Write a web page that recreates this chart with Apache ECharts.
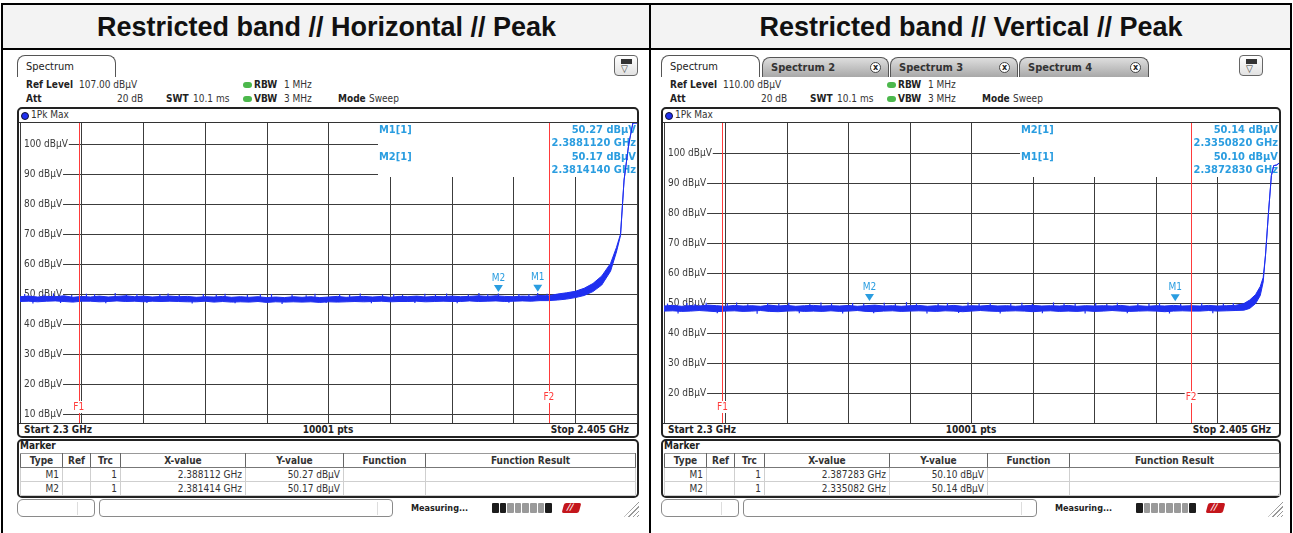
<!DOCTYPE html>
<html>
<head>
<meta charset="utf-8">
<script src="https://cdn.jsdelivr.net/npm/echarts@6.0.0/dist/echarts.min.js"></script>
<style>
body { margin:0; background:#fff; }
#page { position:relative; width:1293px; height:533px; overflow:hidden; font-family:"DejaVu Sans Condensed","DejaVu Sans",sans-serif; font-size:10px; color:#333; }
#page div, #page span, #page table { position:absolute; box-sizing:border-box; white-space:nowrap; }
.title { top:5px; height:44px; font:bold 27px "Liberation Sans", Arial, sans-serif; line-height:44px; text-align:center; color:#111; }
.tab { top:55px; height:22px; border:1px solid #555; border-bottom:none; border-radius:8px 8px 0 0; font-size:11px; line-height:21px; padding-left:8px; color:#222; background:#fff; }
.tab.off { top:57px; height:20px; line-height:19px; background:linear-gradient(#dedede,#a8a8a8); font-weight:bold; color:#333; }
.xb { right:7px; top:4px; width:11px; height:11px; border-radius:50%; border:1px solid #444; background:#fff; font:bold 8px/9px "DejaVu Sans",sans-serif; text-align:center; color:#222; }
table.mk { border-collapse:collapse; table-layout:fixed; font-size:10px; color:#333; }
table.mk th { height:13px; padding:0; font-weight:bold; text-align:center; border-top:1px solid #999; border-bottom:1px solid #777; border-right:1px solid #666; border-left:1px solid #666; }
table.mk td { height:13px; padding:0 3px 0 0; text-align:right; border:1px solid #cfcfcf; line-height:12px; }
</style>
</head>
<body>
<div id="page">
  <div id="chrome"></div>
  <div id="chart" style="left:0;top:0;width:1293px;height:533px;z-index:5;pointer-events:none"></div>
</div>
<script>
// ---- chart values ----
var titles = ['Restricted band // Horizontal // Peak', 'Restricted band // Vertical // Peak'];
var refLevels = [107, 110];            // dBµV, top of each display
var levelTicks = [[10, 20, 30, 40, 50, 60, 70, 80, 90, 100], [20, 30, 40, 50, 60, 70, 80, 90, 100]];
var startGHz = 2.3, stopGHz = 2.405;
var edgeNames = ['F1', 'F2'];
var edgeFreq = [2.31, 2.39];           // restricted band edges, GHz

// horizontal: dense core of the 1Pk Max trace
var hBandFreq = [2.3000,2.3015,2.3030,2.3045,2.3060,2.3075,2.3090,2.3105,2.3120,2.3135,
  2.3150,2.3165,2.3180,2.3195,2.3210,2.3225,2.3240,2.3255,2.3270,2.3285,
  2.3300,2.3315,2.3330,2.3345,2.3360,2.3375,2.3390,2.3405,2.3420,2.3435,
  2.3450,2.3465,2.3480,2.3495,2.3510,2.3525,2.3540,2.3555,2.3570,2.3585,
  2.3600,2.3615,2.3630,2.3645,2.3660,2.3675,2.3690,2.3705,2.3720,2.3735,
  2.3750,2.3765,2.3780,2.3795,2.3810,2.3825,2.3840,2.3855,2.3870,2.3885,
  2.3900,2.3915,2.3930,2.3945,2.3960,2.3975,2.3990,2.4005,2.4015,2.4022,
  2.4028,2.4036,2.4043,2.4050];
var hBandHigh = [49.1,49.3,49.0,49.2,49.1,49.4,48.9,49.2,49.0,49.3,
  49.0,49.2,49.4,49.1,49.3,49.0,49.2,49.3,49.1,49.2,
  48.9,49.1,49.0,49.2,48.9,49.1,48.9,49.1,48.8,49.0,
  48.8,49.1,48.9,49.1,48.8,49.0,49.2,48.9,49.1,49.2,
  49.0,49.2,48.9,49.2,49.1,49.3,49.0,49.2,49.1,49.3,
  49.1,49.2,49.4,49.2,49.4,49.2,49.1,49.3,49.2,49.5,
  49.4,50.0,50.4,50.9,51.9,53.5,56.0,60.2,65.5,70.0,
  88.0,100.0,107.0,107.0];
var hBandLow = [47.5,47.6,47.4,47.6,47.7,47.5,47.3,47.6,47.6,47.4,
  47.5,47.7,47.5,47.6,47.4,47.6,47.5,47.6,47.5,47.4,
  47.4,47.6,47.3,47.5,47.3,47.4,47.3,47.5,47.2,47.4,
  47.3,47.4,47.3,47.4,47.2,47.4,47.3,47.4,47.5,47.4,
  47.5,47.6,47.4,47.5,47.5,47.6,47.4,47.5,47.6,47.5,
  47.5,47.7,47.5,47.6,47.7,47.5,47.6,47.7,47.6,47.8,
  47.8,48.0,48.3,48.8,49.5,50.8,53.0,57.6,64.0,69.5,
  88.0,100.0,107.0,107.0];
// horizontal: single noise spikes poking out of the core
var hSpikeFreq = [2.3008,2.3022,2.3041,2.3057,2.3069,2.3088,2.3113,2.3127,2.3146,2.3162,
  2.3181,2.3199,2.3216,2.3238,2.3252,2.3271,2.3293,2.3312,2.3334,2.3349,
  2.3366,2.3387,2.3409,2.3428,2.3446,2.3463,2.3487,2.3502,2.3521,2.3544,
  2.3561,2.3579,2.3598,2.3617,2.3636,2.3651,2.3672,2.3689,2.3707,2.3726,
  2.3744,2.3763,2.3781,2.3796,2.3814,2.3832,2.3849,2.3866,2.3881,2.3897];
var hSpikeLevel = [50.0,46.8,49.8,50.2,47.0,49.7,50.1,49.9,46.9,50.3,
  49.8,50.0,47.0,49.9,50.2,49.7,46.8,50.0,49.8,50.1,
  46.9,49.7,49.9,50.0,46.7,49.8,49.6,50.1,47.0,49.9,
  49.7,50.2,46.9,49.8,50.0,49.7,47.0,50.1,49.9,50.2,
  46.9,49.8,50.3,49.9,50.2,47.1,50.0,49.9,50.3,50.1];

// vertical
var vBandFreq = [2.3000,2.3015,2.3030,2.3045,2.3060,2.3075,2.3090,2.3105,2.3120,2.3135,
  2.3150,2.3165,2.3180,2.3195,2.3210,2.3225,2.3240,2.3255,2.3270,2.3285,
  2.3300,2.3315,2.3330,2.3345,2.3360,2.3375,2.3390,2.3405,2.3420,2.3435,
  2.3450,2.3465,2.3480,2.3495,2.3510,2.3525,2.3540,2.3555,2.3570,2.3585,
  2.3600,2.3615,2.3630,2.3645,2.3660,2.3675,2.3690,2.3705,2.3720,2.3735,
  2.3750,2.3765,2.3780,2.3795,2.3810,2.3825,2.3840,2.3855,2.3870,2.3885,
  2.3900,2.3915,2.3930,2.3945,2.3960,2.3975,
  2.3990,2.4000,2.4010,2.4018,2.4023,2.4027,2.4032,2.4037,2.4041,2.4046,2.4050];
var vBandHigh = [49.0,49.2,48.9,49.1,49.0,49.3,49.1,48.9,49.2,49.0,
  49.1,48.9,49.3,49.0,49.2,48.9,49.1,49.2,49.0,49.1,
  49.0,49.2,48.9,49.1,49.3,49.0,49.1,48.9,49.1,49.2,
  48.9,49.1,49.0,49.2,48.9,49.1,49.0,49.2,49.0,49.1,
  48.9,49.1,49.2,49.0,49.1,49.0,49.2,48.9,49.1,49.0,
  49.1,49.0,49.2,48.9,49.1,48.9,49.1,49.0,49.2,49.0,
  49.1,49.0,49.2,49.0,49.1,49.2,
  49.8,51.0,52.8,55.5,58.5,66.0,80.0,92.5,95.8,96.0,96.6];
var vBandLow = [47.3,47.4,47.2,47.3,47.5,47.3,47.1,47.3,47.4,47.2,
  47.3,47.5,47.2,47.1,47.3,47.4,47.2,47.3,47.2,47.4,
  47.2,47.3,47.5,47.2,47.1,47.3,47.4,47.2,47.3,47.4,
  47.3,47.2,47.4,47.3,47.1,47.3,47.5,47.3,47.2,47.3,
  47.4,47.3,47.1,47.3,47.4,47.2,47.3,47.2,47.4,47.2,
  47.3,47.5,47.3,47.2,47.3,47.4,47.3,47.1,47.3,47.4,
  47.3,47.3,47.5,47.3,47.4,47.5,
  47.6,48.2,49.8,52.5,57.0,66.0,80.0,92.5,95.8,96.0,96.6];
var vSpikeFreq = [2.3006,2.3024,2.3039,2.3053,2.3072,2.3091,2.3108,2.3124,2.3143,2.3159,
  2.3177,2.3196,2.3213,2.3231,2.3249,2.3268,2.3286,2.3305,2.3322,2.3341,
  2.3358,2.3376,2.3395,2.3414,2.3431,2.3449,2.3468,2.3484,2.3503,2.3519,
  2.3538,2.3557,2.3574,2.3592,2.3611,2.3629,2.3646,2.3665,2.3683,2.3702,
  2.3719,2.3737,2.3756,2.3774,2.3791,2.3809,2.3828,2.3846,2.3863,2.3882,
  2.3900,2.3918,2.3937,2.3955,2.3972];
var vSpikeLevel = [49.8,46.5,50.0,49.7,50.1,46.6,49.9,50.2,49.6,46.4,
  50.0,49.8,50.1,46.6,49.7,50.2,49.9,46.5,50.0,49.8,
  46.6,50.1,49.7,50.3,49.9,46.5,49.8,50.0,46.7,50.2,
  49.8,50.0,46.5,49.9,50.1,49.7,46.6,50.2,49.9,49.8,
  46.5,50.0,49.7,50.1,46.6,49.9,49.8,50.0,46.5,49.7,
  50.1,49.9,46.6,49.8,50.0];

// markers
var hMarkerNames = ['M1', 'M2'];
var hMarkerFreq = [2.388112, 2.381414];
var hMarkerLevel = [50.27, 50.17];
var vMarkerNames = ['M1', 'M2'];
var vMarkerFreq = [2.387283, 2.335082];
var vMarkerLevel = [50.10, 50.14];
var infoOrder = [['M1', 'M2'], ['M2', 'M1']];   // order in the marker info box

var TRACE = '#1f2ff0', MKR = '#2a9de0', EDGE = '#ff3b3b', GRIDC = '#3c3c3c';
var spikeBase = [48.3, 48.2];

// ---- instrument window chrome ----
function box(l, t, w, h, css, inner) {
  return '<div style="left:' + l + 'px;top:' + t + 'px;width:' + w + 'px;height:' + h + 'px;' + (css || '') + '">' + (inner || '') + '</div>';
}
function txt(s, l, t, css) {
  return '<span style="left:' + l + 'px;top:' + t + 'px;line-height:12px;' + (css || '') + '">' + s + '</span>';
}

var tabs = [
  [{ name: 'Spectrum', left: 17, width: 99, on: true }],
  [{ name: 'Spectrum', left: 17, width: 99, on: true },
   { name: 'Spectrum 2', left: 118, width: 127 },
   { name: 'Spectrum 3', left: 246, width: 128 },
   { name: 'Spectrum 4', left: 375, width: 130 }]
];
var frameW = [622, 620];
var colW = [42, 28, 30, 125, 98, 82, 210];

var html = '';
html += box(1, 3, 1291, 47, 'border:2px solid #000;background:#f3f3f3;');
html += '<div class="title" style="left:3px;width:647px">' + titles[0] + '</div>';
html += '<div class="title" style="left:652px;width:638px">' + titles[1] + '</div>';
html += box(1, 3, 2, 530, 'background:#000;') + box(649, 3, 2, 530, 'background:#000;') + box(1290, 3, 2, 530, 'background:#000;');

var markers = [[hMarkerNames, hMarkerFreq, hMarkerLevel], [vMarkerNames, vMarkerFreq, vMarkerLevel]];

for (var p = 0; p < 2; p++) {
  var dx = p * 644, fw = frameW[p];
  tabs[p].forEach(function (t) {
    html += '<div class="tab' + (t.on ? '' : ' off') + '" style="left:' + (dx + t.left) + 'px;width:' + t.width + 'px">' + t.name +
      (t.on ? '' : '<div class="xb">x</div>') + '</div>';
  });
  var ix = p ? dx + fw - 25 : dx + 614;
  html += box(ix, 55, 24, 21, 'border:1px solid #666;border-radius:4px;background:linear-gradient(#fff,#e2e2e2);',
    box(6, 3, 11, 5, 'background:#333;') + '<span style="left:6px;top:7px;font-size:10px;line-height:11px;color:#333">&#9661;</span>');

  html += txt('Ref Level', dx + 26, 79, 'font-weight:bold;color:#222') + txt(refLevels[p].toFixed(2) + ' dB&micro;V', dx + 79, 79);
  html += box(dx + 243, 82, 9, 6, 'background:#4cb84c;border-radius:3px;') + txt('RBW', dx + 254, 79, 'font-weight:bold;color:#222') + txt('1 MHz', dx + 284, 79);
  html += txt('Att', dx + 26, 93, 'font-weight:bold;color:#222') + txt('20 dB', dx + 117, 93) +
    txt('SWT', dx + 166, 93, 'font-weight:bold;color:#222') + txt('10.1 ms', dx + 193, 93);
  html += box(dx + 243, 96, 9, 6, 'background:#4cb84c;border-radius:3px;') + txt('VBW', dx + 254, 93, 'font-weight:bold;color:#222') + txt('3 MHz', dx + 284, 93) +
    txt('Mode', dx + 338, 93, 'font-weight:bold;color:#222') + txt('Sweep', dx + 369, 93);

  // diagram frame
  html += box(dx + 17, 107, fw, 331, 'border:2px solid #222;border-radius:5px;background:#fff;');
  html += box(dx + 19, 109, fw - 4, 14, 'border-bottom:1px solid #333;',
    box(2, 3, 8, 8, 'background:' + TRACE + ';border-radius:4px;border:1px solid #113;') + txt('1Pk Max', 12, 0));
  html += box(dx + 19, 423, fw - 4, 13, 'border-top:1px solid #333;',
    txt('Start 2.3 GHz', 5, 0, 'font-weight:bold;color:#222') +
    '<div style="left:0;top:0;width:100%;line-height:12px;text-align:center;font-weight:bold;color:#222">10001 pts</div>' +
    '<span style="right:8px;top:0;line-height:12px;font-weight:bold;color:#222">Stop 2.405 GHz</span>');

  // marker table
  html += box(dx + 17, 439, fw, 59, 'border:2px solid #222;border-radius:5px;background:#fff;');
  html += txt('Marker', dx + 20, 440, 'font-weight:bold;color:#222');
  var m = markers[p];
  var t = '<table class="mk" style="left:' + (dx + 20) + 'px;top:453px;width:' + (fw - 7) + 'px"><colgroup>';
  colW.forEach(function (w) { t += '<col style="width:' + w + 'px">'; });
  t += '</colgroup><tr><th>Type</th><th>Ref</th><th>Trc</th><th>X-value</th><th>Y-value</th><th>Function</th><th>Function Result</th></tr>';
  for (var k = 0; k < m[0].length; k++) {
    t += '<tr><td>' + m[0][k] + '</td><td></td><td>1</td><td>' + m[1][k].toFixed(6) + ' GHz</td><td>' +
      m[2][k].toFixed(2) + ' dB&micro;V</td><td></td><td></td></tr>';
  }
  html += t + '</table>';

  // status line
  html += box(dx + 17, 499, 78, 18, 'border:1px solid #8a8a8a;border-radius:6px 4px 4px 6px;', box(59, 2, 1, 13, 'background:#ddd;'));
  html += box(dx + 99, 499, 294, 18, 'border:1px solid #8a8a8a;border-radius:4px;', box(277, 2, 1, 13, 'background:#ddd;'));
  html += txt('Measuring...', dx + 411, 502, 'font-weight:bold;font-size:9px;color:#222');
  var seg = '';
  for (var s = 0; s < 8; s++) {
    var c = (s === 0 || (p === 0 && s === 1) || s === 7) ? '#1c1c1c' : '#9a9a9a';
    seg += box(s * 7.6, 0, 6.6, 10, 'background:' + c + ';border-radius:1px;');
  }
  html += box(dx + 492, 503, 61, 10, '', seg);
  html += box(dx + 563, 503, 17, 10, 'background:#c4161c;border-radius:2px;transform:skewX(-15deg);',
    txt('//', 4, -1, 'color:#fff;font-weight:bold;font-size:9px;line-height:11px'));
  html += box(dx + 624, 501, 15, 16, 'background:repeating-linear-gradient(135deg,transparent 0 2px,#999 2px 3px);clip-path:polygon(100% 0,100% 100%,0 100%);');
}
document.getElementById('chrome').innerHTML = html;

// ---- spectrum displays ----
function mhz(f) { return (f - startGHz) * 1000; }   // offset from start, MHz
var span = (stopGHz - startGHz) * 1000;
var grids = [{ left: 20, top: 123, width: 617, height: 300 }, { left: 664, top: 123, width: 615, height: 300 }];
var infoLeft = [378, 1020];
var bands = [[hBandFreq, hBandHigh, hBandLow], [vBandFreq, vBandHigh, vBandLow]];
var spikes = [[hSpikeFreq, hSpikeLevel], [vSpikeFreq, vSpikeLevel]];
var FONT = '"DejaVu Sans Condensed","DejaVu Sans"';

var xAxes = [], yAxes = [], series = [], graphics = [];
for (var q = 0; q < 2; q++) {
  xAxes.push({
    gridIndex: q, type: 'value', min: 0, max: span, interval: span / 10,
    axisLine: { show: false }, axisTick: { show: false }, axisLabel: { show: false },
    splitLine: { lineStyle: { color: GRIDC, width: 1 } }
  });
  yAxes.push({
    gridIndex: q, type: 'value', min: refLevels[q] - 100, max: refLevels[q],
    axisLine: { show: false },
    axisTick: { show: false, customValues: levelTicks[q] },
    axisLabel: {
      customValues: levelTicks[q], inside: true, margin: 1,
      formatter: '{value} dBµV', color: '#3a3a3a', fontSize: 10,
      fontFamily: FONT, backgroundColor: '#fff', padding: [0, 1, 0, 3]
    },
    splitLine: { lineStyle: { color: GRIDC, width: 1 } }
  });

  // dense trace core (filled envelope)
  series.push({
    type: 'custom', xAxisIndex: q, yAxisIndex: q, clip: true, silent: true, z: 2,
    data: [[0, refLevels[q]]],
    renderItem: (function (b) {
      return function (params, api) {
        var pts = [], i;
        for (i = 0; i < b[0].length; i++) pts.push(api.coord([mhz(b[0][i]), b[1][i]]));
        for (i = b[0].length - 1; i >= 0; i--) pts.push(api.coord([mhz(b[0][i]), b[2][i]]));
        return { type: 'polygon', shape: { points: pts }, style: { fill: TRACE, stroke: TRACE, lineWidth: 1 } };
      };
    })(bands[q])
  });

  // noise spikes
  series.push({
    type: 'custom', xAxisIndex: q, yAxisIndex: q, clip: true, silent: true, z: 2,
    data: spikes[q][0].map(function (f, i) { return [mhz(f), spikes[q][1][i]]; }),
    renderItem: (function (base) {
      return function (params, api) {
        var a = api.coord([api.value(0), base]), b = api.coord([api.value(0), api.value(1)]);
        return { type: 'line', shape: { x1: a[0], y1: a[1], x2: b[0], y2: b[1] }, style: { stroke: TRACE, lineWidth: 1.2 } };
      };
    })(spikeBase[q])
  });

  var mk = markers[q];
  var pts = [];
  for (var k = 0; k < mk[0].length; k++) {
    pts.push({
      name: mk[0][k], coord: [mhz(mk[1][k]), mk[2][k]],
      symbol: 'path://M0,0 L10,0 L5,7 Z', symbolSize: [9, 7], symbolOffset: [0, -5],
      itemStyle: { color: MKR },
      label: { show: true, position: 'top', distance: 2, formatter: '{b}', color: MKR, fontSize: 10, fontFamily: FONT }
    });
  }
  for (var e = 0; e < edgeNames.length; e++) {
    pts.push({
      name: edgeNames[e], coord: [mhz(edgeFreq[e]), refLevels[q] - 100],
      symbol: 'rect', symbolSize: [1, 1], itemStyle: { color: 'rgba(0,0,0,0)' },
      label: {
        show: true, position: 'inside', offset: [0, e === 0 ? -16 : -26], formatter: '{b}', color: EDGE, fontSize: 10,
        fontFamily: FONT, backgroundColor: '#fff', padding: [1, 1]
      }
    });
  }
  series.push({
    type: 'line', xAxisIndex: q, yAxisIndex: q, data: [], silent: true, z: 3,
    markLine: {
      silent: true, symbol: ['none', 'none'], label: { show: false },
      lineStyle: { color: EDGE, type: 'solid', width: 1 },
      data: edgeFreq.map(function (f) { return { xAxis: mhz(f) }; })
    },
    markPoint: { silent: true, data: pts }
  });

  // marker info field (top right of the diagram)
  var g = grids[q], gr = g.left + g.width, il = infoLeft[q];
  var font = 'bold 11px ' + FONT;
  graphics.push({ type: 'rect', z: 1, silent: true, shape: { x: il, y: g.top, width: gr - il, height: 54 }, style: { fill: '#fff' } });
  infoOrder[q].forEach(function (name, r) {
    var idx = mk[0].indexOf(name);
    graphics.push({ type: 'text', z: 1, x: il + 1, y: g.top + 7 + r * 27, style: { text: name + '[1]', fill: MKR, font: font, textVerticalAlign: 'middle' } });
    graphics.push({ type: 'text', z: 1, x: gr - 1, y: g.top + 7 + r * 27, style: { text: mk[2][idx].toFixed(2) + ' dBµV', fill: MKR, font: font, textAlign: 'right', textVerticalAlign: 'middle' } });
    graphics.push({ type: 'text', z: 1, x: gr - 1, y: g.top + 20.5 + r * 27, style: { text: mk[1][idx].toFixed(7) + ' GHz', fill: MKR, font: font, textAlign: 'right', textVerticalAlign: 'middle' } });
  });
}

var chart = echarts.init(document.getElementById('chart'));
chart.setOption({
  animation: false,
  grid: grids,
  xAxis: xAxes,
  yAxis: yAxes,
  series: series,
  graphic: { elements: graphics }
});
</script>
</body>
</html>
